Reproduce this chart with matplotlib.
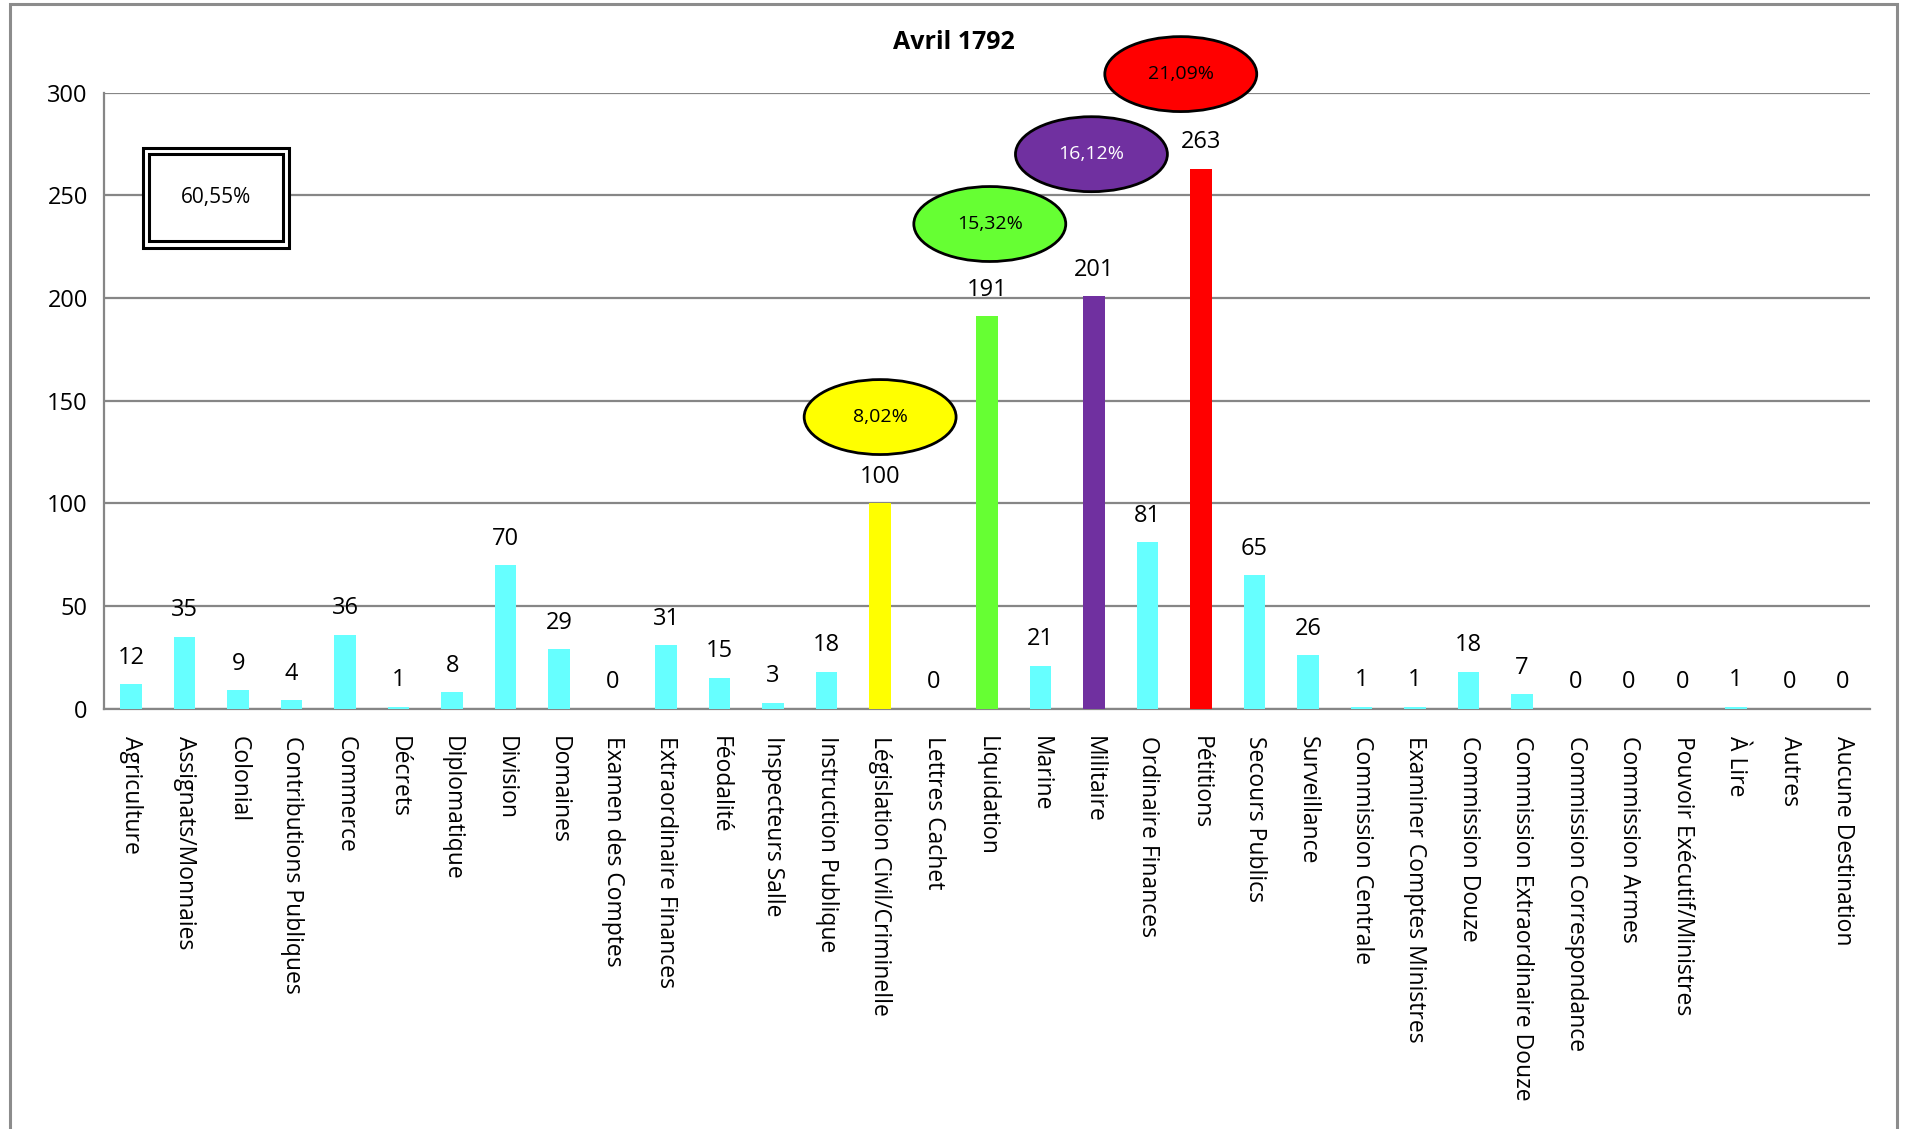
import matplotlib.pyplot as plt
from matplotlib.patches import Ellipse, Rectangle

plt.rcParams['font.family'] = ['Open Sans', 'DejaVu Sans']

categories = ['Agriculture', 'Assignats/Monnaies', 'Colonial', 'Contributions Publiques',
              'Commerce', 'Décrets', 'Diplomatique', 'Division', 'Domaines',
              'Examen des Comptes', 'Extraordinaire Finances', 'Féodalité',
              'Inspecteurs Salle', 'Instruction Publique', 'Législation Civil/Criminelle',
              'Lettres Cachet', 'Liquidation', 'Marine', 'Militaire', 'Ordinaire Finances',
              'Pétitions', 'Secours Publics', 'Surveillance', 'Commission Centrale',
              'Examiner Comptes Ministres', 'Commission Douze',
              'Commission Extraordinaire Douze', 'Commission Correspondance',
              'Commission Armes', 'Pouvoir Exécutif/Ministres', 'À Lire', 'Autres',
              'Aucune Destination']
values = [12, 35, 9, 4, 36, 1, 8, 70, 29, 0, 31, 15, 3, 18, 100, 0, 191, 21, 201, 81,
          263, 65, 26, 1, 1, 18, 7, 0, 0, 0, 1, 0, 0]

# highlighted categories and their share
highlight = ['Législation Civil/Criminelle', 'Liquidation', 'Militaire', 'Pétitions']
highlight_pct = ['8,02%', '15,32%', '16,12%', '21,09%']
highlight_col = ['#FFFF00', '#66FF33', '#7030A0', '#FF0000']
pct_text_col = ['black', 'black', 'white', 'black']
ellipse_y = [142, 236, 270, 309]
ellipse_dx = [0.0, 0.05, -0.05, -0.38]
rest_pct = '60,55%'

base_col = '#66FFFF'
colors = [base_col] * len(categories)
for name, c in zip(highlight, highlight_col):
    colors[categories.index(name)] = c

fig = plt.figure(figsize=(19.06, 11.29), dpi=100)
ax = fig.add_axes([0.0548, 0.3723, 0.9262, 0.5457])

x = list(range(len(categories)))
ax.bar(x, values, width=0.4, color=colors, zorder=3)
ax.set_xlim(-0.5, len(categories) - 0.5)
ax.set_ylim(0, 300)
ax.set_yticks(range(0, 301, 50))
ax.yaxis.grid(True, color='#868686', linewidth=1.6, zorder=0)
ax.set_axisbelow(True)
for s in ['top', 'right']:
    ax.spines[s].set_visible(False)
for s in ['left', 'bottom']:
    ax.spines[s].set_color('#868686')
    ax.spines[s].set_linewidth(1.6)
ax.tick_params(length=0, labelsize=17, pad=12)
ax.set_xticks(x)
ax.set_xticklabels(categories, rotation=-90, ha='center', va='top', fontsize=16.5)
ax.tick_params(axis='x', pad=20)

for xi, v in zip(x, values):
    ax.annotate(str(v), (xi, v), xytext=(0, 19), textcoords='offset points',
                ha='center', va='center', fontsize=17)

for name, pct, c, tc, ey, dx in zip(highlight, highlight_pct, highlight_col,
                                    pct_text_col, ellipse_y, ellipse_dx):
    xi = categories.index(name) + dx
    ax.add_patch(Ellipse((xi, ey), 2.84, 36.5, facecolor=c, edgecolor='black',
                         linewidth=2, zorder=5, clip_on=False))
    ax.text(xi, ey, pct, ha='center', va='center', fontsize=14, color=tc,
            zorder=6, clip_on=False)

# double-framed box for the remaining share
ax.add_patch(Rectangle((0.225, 224.5), 2.73, 48.5, facecolor='white', edgecolor='black',
                       linewidth=2.2, zorder=5))
ax.add_patch(Rectangle((0.335, 227.5), 2.51, 42.5, facecolor='none', edgecolor='black',
                       linewidth=2.2, zorder=6))
ax.text(1.59, 249, rest_pct, ha='center', va='center', fontsize=15, zorder=7)

fig.text(0.5005, 0.962, 'Avril 1792', ha='center', va='center', fontsize=18,
         fontweight='bold')

fig.patches.append(Rectangle((0.005, -0.05), 0.9905, 1.0468, transform=fig.transFigure,
                             fill=False, edgecolor='#8c8c8c', linewidth=2.2))

fig.savefig('out.png', dpi=100)
